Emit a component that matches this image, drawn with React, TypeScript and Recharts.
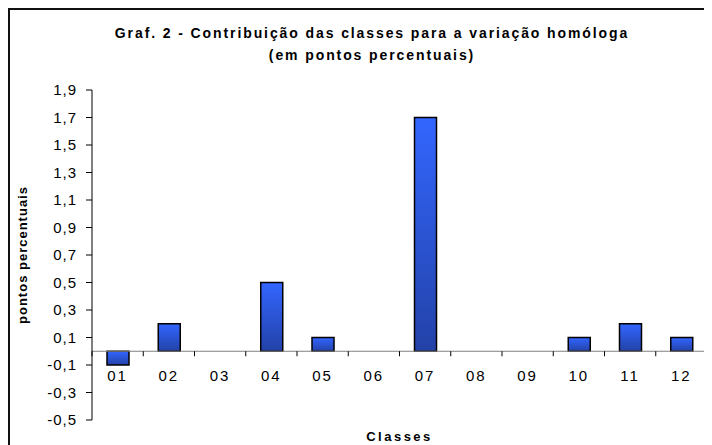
import React from 'react';
import { BarChart, Bar, XAxis, YAxis, ReferenceLine } from 'recharts';

const classes = ['01', '02', '03', '04', '05', '06', '07', '08', '09', '10', '11', '12'];
const contributions = [-0.1, 0.2, 0, 0.5, 0.1, 0, 1.7, 0, 0, 0.1, 0.2, 0.1];
const yTicks = [-0.5, -0.3, -0.1, 0.1, 0.3, 0.5, 0.7, 0.9, 1.1, 1.3, 1.5, 1.7, 1.9];

const data = classes.map((c, i) => ({ classe: c, valor: contributions[i] }));

const W = 704;
const H = 437;
const X_AXIS_H = 25;
const MARGIN = { top: 82, right: 5, bottom: 0, left: 0 };
const Y_AXIS_W = 84;
const Y_MIN = -0.5;
const Y_MAX = 1.9;
const PLOT_H = H - MARGIN.top - X_AXIS_H;
const BAND = (W - MARGIN.left - MARGIN.right - Y_AXIS_W) / classes.length;
const FONT = '"Liberation Sans", Arial, sans-serif';

// category labels sit on the zero line, not at the bottom of the plot
const ClassTick = (props: any) => {
  const { x, y, payload, index } = props;
  const zeroY = y - (PLOT_H * (0 - Y_MIN)) / (Y_MAX - Y_MIN);
  return (
    <g>
      <line x1={x - BAND / 2} x2={x - BAND / 2} y1={zeroY} y2={zeroY + 5} stroke="#000" />
      {index === classes.length - 1 && (
        <line x1={x + BAND / 2} x2={x + BAND / 2} y1={zeroY} y2={zeroY + 5} stroke="#000" />
      )}
      <text
        x={x}
        y={zeroY + 24}
        textAnchor="middle"
        dominantBaseline="central"
        fontSize={15}
        letterSpacing={2}
        fill="#000"
        fontFamily={FONT}
      >
        {payload.value}
      </text>
    </g>
  );
};

const App = () => {
  return (
    <div style={{ position: 'relative', width: W, height: H, fontFamily: FONT }}>
      <div
        style={{
          position: 'absolute',
          left: 0,
          top: 0,
          width: W,
          height: H,
          boxSizing: 'border-box',
          borderLeft: '2px solid #111',
          borderTop: '2px solid #111',
        }}
      />
      <div
        style={{
          position: 'absolute',
          left: 0,
          width: 728,
          top: 14,
          textAlign: 'center',
          fontWeight: 'bold',
          fontSize: 14,
          letterSpacing: 1.9,
          lineHeight: '22px',
        }}
      >
        Graf. 2 - Contribuição das classes para a variação homóloga
        <br />
        (em pontos percentuais)
      </div>
      <BarChart width={W} height={H} data={data} margin={MARGIN}>
        <defs>
          <linearGradient id="barFill" x1="0" y1="0" x2="0" y2="1">
            <stop offset="0%" stopColor="#3366ff" />
            <stop offset="100%" stopColor="#2342a8" />
          </linearGradient>
        </defs>
        <XAxis
          dataKey="classe"
          height={X_AXIS_H}
          axisLine={false}
          tickLine={false}
          tickSize={0}
          tickMargin={0}
          interval={0}
          tick={(p: any) => <ClassTick {...p} />}
        />
        <YAxis
          width={Y_AXIS_W}
          domain={[Y_MIN, Y_MAX]}
          ticks={yTicks}
          interval={0}
          allowDataOverflow
          tickFormatter={(v: number) => v.toFixed(1).replace('.', ',')}
          tick={{ fill: '#000', fontSize: 15, fontFamily: FONT, letterSpacing: 1 }}
          tickSize={6}
          tickMargin={9}
          axisLine={{ stroke: '#000' }}
          tickLine={{ stroke: '#000' }}
          label={({ viewBox }: any) => {
            const cy = viewBox.y + viewBox.height / 2;
            return (
              <text
                x={14}
                y={cy}
                transform={`rotate(-90, 14, ${cy})`}
                textAnchor="middle"
                dominantBaseline="central"
                fontSize={13}
                letterSpacing={1}
                fontWeight="bold"
                fontFamily={FONT}
                fill="#000"
              >
                pontos percentuais
              </text>
            );
          }}
        />
        <Bar
          dataKey="valor"
          barSize={22}
          fill="url(#barFill)"
          stroke="#000"
          strokeWidth={1.5}
          isAnimationActive={false}
        />
        <ReferenceLine y={0} stroke="#808080" strokeWidth={1.2} />
      </BarChart>
      <div
        style={{
          position: 'absolute',
          left: Y_AXIS_W,
          width: W - Y_AXIS_W - MARGIN.right,
          top: 421,
          textAlign: 'center',
          fontWeight: 'bold',
          fontSize: 13,
          letterSpacing: 2.5,
          lineHeight: '16px',
        }}
      >
        Classes
      </div>
    </div>
  );
};

export default App;
